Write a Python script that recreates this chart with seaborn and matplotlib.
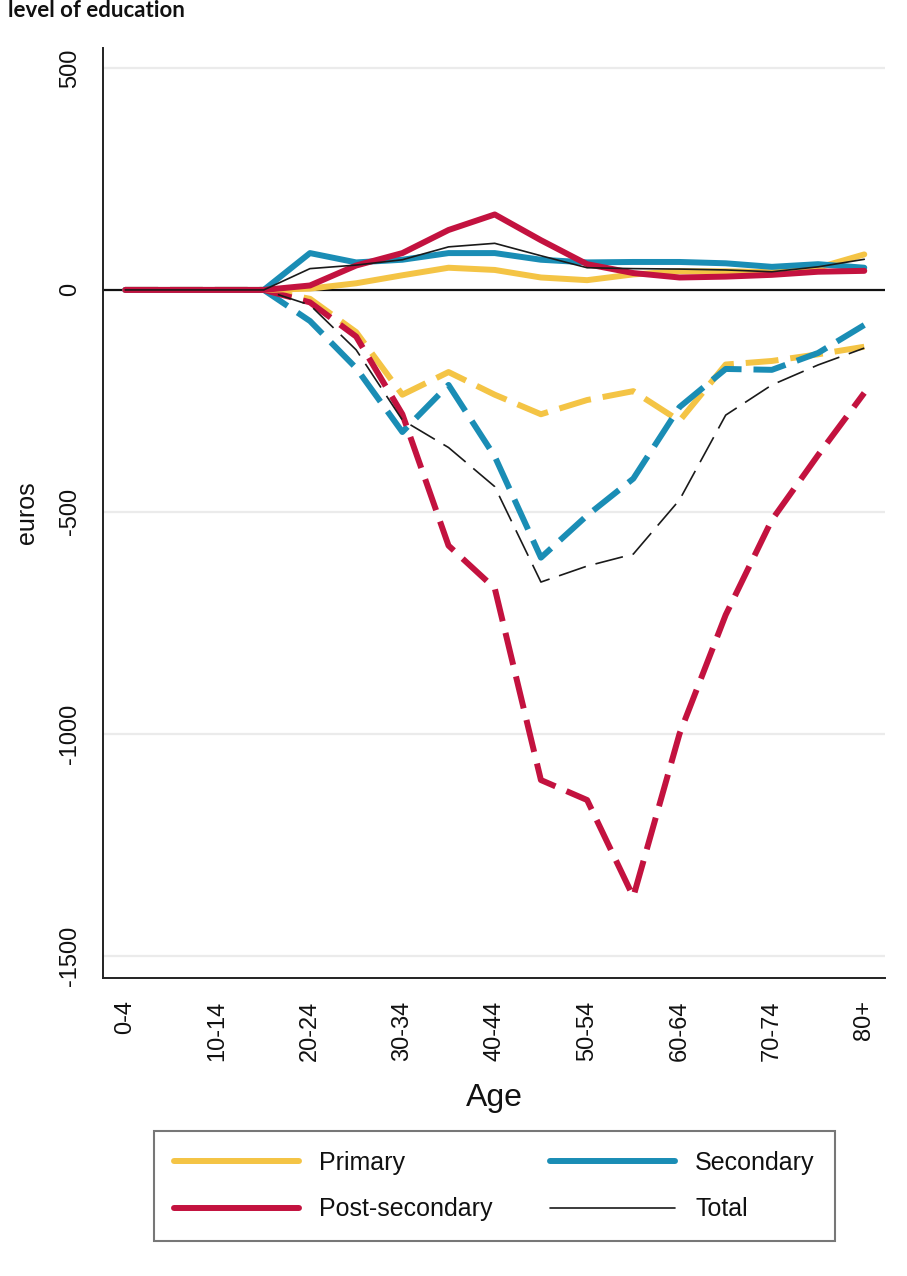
import numpy as np
import pandas as pd
import matplotlib
matplotlib.use("Agg")
import matplotlib.pyplot as plt
import seaborn as sns

# age groups (17 five-year bands)
ages = ["0-4", "5-9", "10-14", "15-19", "20-24", "25-29", "30-34", "35-39",
        "40-44", "45-49", "50-54", "55-59", "60-64", "65-69", "70-74", "75-79", "80+"]
tick_labels = ["0-4", "10-14", "20-24", "30-34", "40-44", "50-54", "60-64", "70-74", "80+"]

# solid lines (positive part), euros
primary_pos = [0, 0, 0, 0, 3, 15, 33, 50, 45, 28, 22, 35, 42, 42, 40, 50, 80]
secondary_pos = [0, 0, 0, 0, 83, 62, 68, 83, 83, 68, 62, 63, 63, 60, 52, 58, 50]
postsec_pos = [0, 0, 0, 0, 10, 55, 83, 135, 170, 112, 58, 38, 28, 30, 34, 41, 43]
total_pos = [0, 0, 0, 0, 48, 56, 68, 97, 105, 77, 50, 48, 47, 45, 41, 52, 69]

# dashed lines (negative part), euros
primary_neg = [0, 0, 0, 0, -20, -95, -236, -185, -236, -280, -248, -228, -295, -168, -160, -145, -128]
secondary_neg = [0, 0, 0, 0, -70, -176, -320, -214, -375, -603, -508, -425, -264, -178, -180, -142, -79]
postsec_neg = [0, 0, 0, 0, -28, -105, -280, -576, -672, -1104, -1149, -1367, -1000, -732, -518, -372, -232]
total_neg = [0, 0, 0, 0, -34, -135, -293, -355, -443, -658, -622, -595, -473, -282, -214, -169, -131]

series = ["Primary", "Secondary", "Post-secondary", "Total"]
colors = {"Primary": "#F4C445", "Secondary": "#1A8DB5",
          "Post-secondary": "#C3123F", "Total": "#1a1a1a"}
widths = {"Primary": 4.3, "Secondary": 4.3, "Post-secondary": 4.3, "Total": 1.2}
pos_data = {"Primary": primary_pos, "Secondary": secondary_pos,
            "Post-secondary": postsec_pos, "Total": total_pos}
neg_data = {"Primary": primary_neg, "Secondary": secondary_neg,
            "Post-secondary": postsec_neg, "Total": total_neg}

sns.set_style("white")
plt.rcParams["font.family"] = ["Liberation Sans", "DejaVu Sans"]
plt.rcParams["text.color"] = "#111111"
plt.rcParams["axes.labelcolor"] = "#111111"
plt.rcParams["xtick.color"] = "#111111"
plt.rcParams["ytick.color"] = "#111111"

fig = plt.figure(figsize=(9.07, 12.76), dpi=100)
ax = fig.add_axes([0.1136, 0.2335, 0.8622, 0.7289])

x = np.arange(len(ages))

for y in [500, -500, -1000, -1500]:
    ax.axhline(y, color="#ebebeb", lw=1.6, zorder=0)
ax.axhline(0, color="#111111", lw=1.6, zorder=1)

for s in series:
    df = pd.DataFrame({"x": x, "val": neg_data[s]})
    dash = (0, (5.5, 2)) if s != "Total" else (0, (17, 6))
    sns.lineplot(data=df, x="x", y="val", ax=ax, color=colors[s],
                 lw=widths[s], linestyle=dash, zorder=2)
for s in series:
    df = pd.DataFrame({"x": x, "val": pos_data[s]})
    sns.lineplot(data=df, x="x", y="val", ax=ax, color=colors[s],
                 lw=widths[s], label=s, zorder=4 if s == "Total" else 3)

ax.set_xlim(-0.48, 16.45)
ax.set_ylim(-1550, 545)

ax.set_xticks(x[::2])
ax.set_xticklabels(tick_labels, rotation=90, fontsize=17)
ax.set_yticks([500, 0, -500, -1000, -1500])
ax.set_yticklabels(["500", "0", "-500", "-1000", "-1500"], rotation=90,
                   va="center", fontsize=17)
ax.tick_params(axis="both", direction="out", length=9, width=1.2, color="#222222")
ax.tick_params(axis="x", pad=7)
ax.tick_params(axis="y", pad=7)

for side in ["top", "right"]:
    ax.spines[side].set_visible(False)
for side in ["left", "bottom"]:
    ax.spines[side].set_color("#222222")
    ax.spines[side].set_linewidth(1.4)

ax.set_xlabel("Age", fontsize=23, labelpad=16)
ax.set_ylabel("euros", fontsize=18, labelpad=14)

handles, labels = ax.get_legend_handles_labels()
ax.get_legend().remove()
# legend fills column-wise: reorder so rows read Primary/Secondary, Post-secondary/Total
order = [0, 2, 1, 3]
leg = fig.legend([handles[i] for i in order], [labels[i] for i in order],
                 loc="upper center", bbox_to_anchor=(0.545, 0.1235),
                 ncol=2, fontsize=18, handlelength=5, handletextpad=0.8,
                 columnspacing=2.3, labelspacing=0.9, borderpad=0.8,
                 frameon=True, fancybox=False)
leg.get_frame().set_edgecolor("#555555")
leg.get_frame().set_linewidth(1.5)

fig.text(185 / 907, 1 - 17 / 1276, "level of education", ha="right", va="baseline",
         fontsize=16, fontweight="bold", family=["Lato", "DejaVu Sans"])

fig.savefig("out.png", dpi=100)
